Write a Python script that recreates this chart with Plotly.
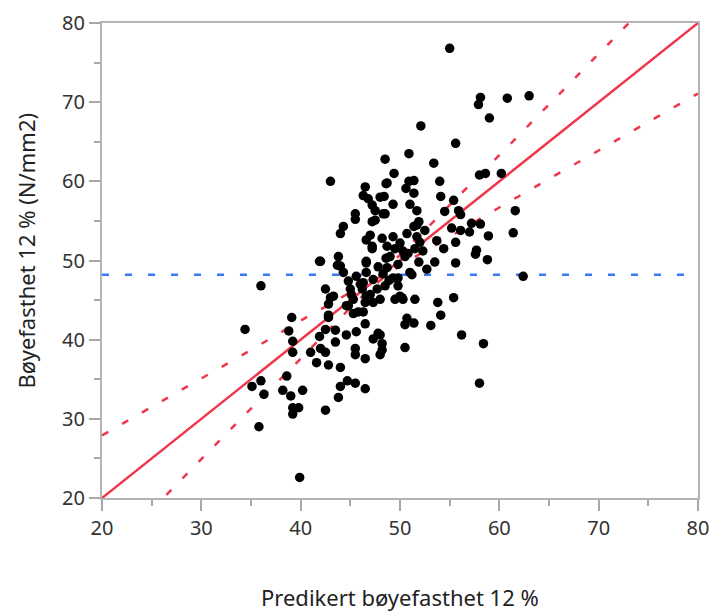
import plotly.graph_objects as go

pred = [55.0, 58.1, 57.9, 60.8, 63.0, 59.0, 52.1, 55.6, 48.5, 50.9, 53.4,
        49.4, 48.7, 50.9, 51.4, 54.0, 50.6, 51.4, 54.1, 48.4, 49.3, 51.0,
        51.7, 48.5, 55.4, 55.9, 54.5, 56.1, 58.0, 58.6, 60.2, 61.6, 61.4,
        58.9, 58.1, 57.2, 57.0, 56.1, 55.2, 55.6, 53.7, 54.4, 57.7, 57.6,
        58.8, 55.6, 53.5, 52.7, 51.9, 51.2, 62.4, 51.7, 51.9, 51.4, 50.7,
        49.3, 50.0, 48.7, 50.3, 51.7,
        43.0, 46.5, 46.3, 46.8, 47.2, 47.5, 48.0, 48.6, 45.5, 45.5, 44.3,
        44.0, 47.2, 47.5, 47.0, 46.6, 47.2, 42.0, 43.8, 46.6, 44.0, 48.3,
        44.8, 45.6, 46.3, 46.2, 46.6, 47.3, 47.7, 47.0, 48.0, 47.3, 48.5,
        48.9, 46.6, 48.6, 48.7, 49.3, 49.8, 50.0, 49.5, 50.3, 51.5, 51.0,
        49.8, 50.5, 49.5, 48.2, 49.0, 50.8, 51.5, 52.3, 49.8, 48.3, 47.8,
        52.5, 52.0, 43.7, 44.3, 42.5, 43.3, 42.8, 43.0, 42.8, 42.8, 44.8,
        45.3, 45.1, 45.0, 44.6, 45.3, 45.8, 46.3, 46.5, 46.6, 46.0, 47.2,
        53.8, 55.4, 50.2, 50.7, 50.5, 51.4, 53.1, 54.1, 56.2, 58.4, 50.5,
        58.0, 48.0, 48.2, 48.0, 47.3, 47.8, 48.2,
        36.0, 34.4, 41.9, 39.1, 38.8, 39.2, 39.2, 35.1, 36.0, 36.3, 38.6,
        38.2, 39.0, 40.2, 39.2, 39.8, 39.2, 35.8, 42.5, 43.8, 44.0, 44.7,
        45.5, 46.5, 39.9, 41.0, 41.6, 42.0, 42.5, 42.8, 44.0, 43.5, 42.5,
        41.9, 43.5, 45.5, 45.5, 46.5, 44.6, 45.6, 46.5]
actual = [76.8, 70.6, 69.7, 70.5, 70.8, 68.0, 67.0, 64.8, 62.8, 63.5, 62.3,
          61.0, 59.8, 60.0, 60.1, 60.0, 59.1, 58.5, 58.1, 58.1, 57.1, 57.1,
          56.3, 55.9, 57.6, 56.3, 56.2, 55.8, 60.8, 61.0, 61.0, 56.3, 53.5,
          53.1, 54.6, 54.7, 53.6, 53.8, 54.1, 52.3, 52.5, 51.5, 51.3, 50.8,
          50.1, 49.7, 49.8, 48.9, 49.8, 48.2, 48.0, 54.5, 54.9, 54.3, 53.4,
          53.0, 52.2, 51.8, 51.2, 53.0,
          60.0, 59.3, 58.2, 57.8, 57.0, 56.3, 58.0, 59.7, 55.9, 55.2, 54.3,
          53.4, 54.9, 55.1, 53.2, 52.6, 51.8, 49.9, 50.5, 49.9, 49.3, 55.9,
          47.4, 48.0, 47.2, 46.4, 48.5, 47.6, 46.4, 45.7, 45.1, 44.7, 46.8,
          47.5, 49.7, 50.3, 49.1, 47.8, 46.8, 45.5, 45.1, 45.1, 45.1, 48.5,
          47.8, 50.5, 51.5, 52.8, 50.5, 50.9, 51.5, 51.2, 49.5, 48.3, 49.2,
          53.8, 52.3, 49.4, 48.5, 46.4, 45.5, 44.5, 45.3, 43.1, 42.8, 44.3,
          45.1, 45.7, 46.4, 44.3, 43.3, 43.5, 43.5, 44.7, 45.5, 47.0, 51.5,
          44.7, 45.3, 45.3, 42.7, 41.9, 42.1, 41.8, 43.1, 40.6, 39.5, 39.0,
          34.5, 40.6, 38.7, 38.1, 40.1, 40.8, 39.5,
          46.8, 41.3, 49.9, 42.8, 41.1, 39.8, 38.4, 34.1, 34.8, 33.1, 35.4,
          33.6, 32.9, 33.6, 31.4, 31.4, 30.6, 29.0, 31.1, 32.7, 34.1, 34.8,
          34.5, 33.8, 22.6, 38.4, 37.1, 38.9, 38.4, 36.8, 36.5, 39.7, 41.3,
          40.4, 41.2, 38.9, 38.1, 37.6, 40.6, 41.0, 42.0]

mean_actual = 48.2

fit_x = [20, 80]
fit_y = [20, 80]

band_x = [20, 25, 30, 35, 40, 45, 48.2, 50, 55, 60, 65, 70, 75, 80]
band_upper = [27.9, 31.5, 35.1, 38.7, 42.4, 46.0, 48.7, 50.7, 57.0, 63.3, 69.7, 76.1, 82.5, 88.9]
band_lower = [12.1, 18.5, 24.9, 31.3, 37.6, 44.0, 47.7, 49.3, 53.0, 56.7, 60.3, 63.9, 67.5, 71.1]

red = "#f0364a"
blue = "#3a78f2"

fig = go.Figure()

fig.add_trace(go.Scatter(x=[20, 80], y=[mean_actual, mean_actual], mode="lines",
                         line=dict(color=blue, width=2.5, dash="7px,16px")))
fig.add_trace(go.Scatter(x=band_x, y=band_upper, mode="lines", line_shape="spline",
                         line=dict(color=red, width=2.5, dash="7px,16px")))
fig.add_trace(go.Scatter(x=band_x, y=band_lower, mode="lines", line_shape="spline",
                         line=dict(color=red, width=2.5, dash="7px,16px")))
fig.add_trace(go.Scatter(x=fit_x, y=fit_y, mode="lines",
                         line=dict(color=red, width=2.5)))
fig.add_trace(go.Scatter(x=pred, y=actual, mode="markers",
                         marker=dict(color="black", size=9.5, line_width=0)))

axis_style = dict(
    range=[20, 80], dtick=10, tick0=20,
    ticks="outside", ticklen=11, tickwidth=1.5, tickcolor="#a8a8a8",
    minor=dict(dtick=5, ticks="outside", ticklen=6, tickcolor="#a8a8a8", tickwidth=1.5),
    showline=True, linecolor="#b4b4b4", linewidth=2, mirror=True,
    showgrid=False, zeroline=False,
    automargin=False, ticklabeloverflow="allow",
    tickfont=dict(family="Noto Sans", size=20, color="#333333"),
)

# the page adds an 8px body margin, so the figure sits 8px in from the corner
fig.update_layout(
    width=709, height=606,
    margin=dict(l=94, r=19, t=15, b=116),
    plot_bgcolor="white", paper_bgcolor="white",
    showlegend=False,
    xaxis=axis_style, yaxis=axis_style,
    font=dict(family="Noto Sans", size=22, color="#222222"),
)

fig.add_annotation(text="Predikert bøyefasthet 12 %", xref="paper", yref="paper",
                   x=0.5, y=0, yshift=-99, showarrow=False, yanchor="middle",
                   font=dict(family="Noto Sans", size=22, color="#222222"))
fig.add_annotation(text="Bøyefasthet 12 % (N/mm2)", xref="paper", yref="paper",
                   x=0, y=0.5, xshift=-77, yshift=10, showarrow=False, textangle=-90,
                   xanchor="center", yanchor="middle",
                   font=dict(family="Noto Sans", size=22, color="#222222"))

fig.write_html("out.html")
